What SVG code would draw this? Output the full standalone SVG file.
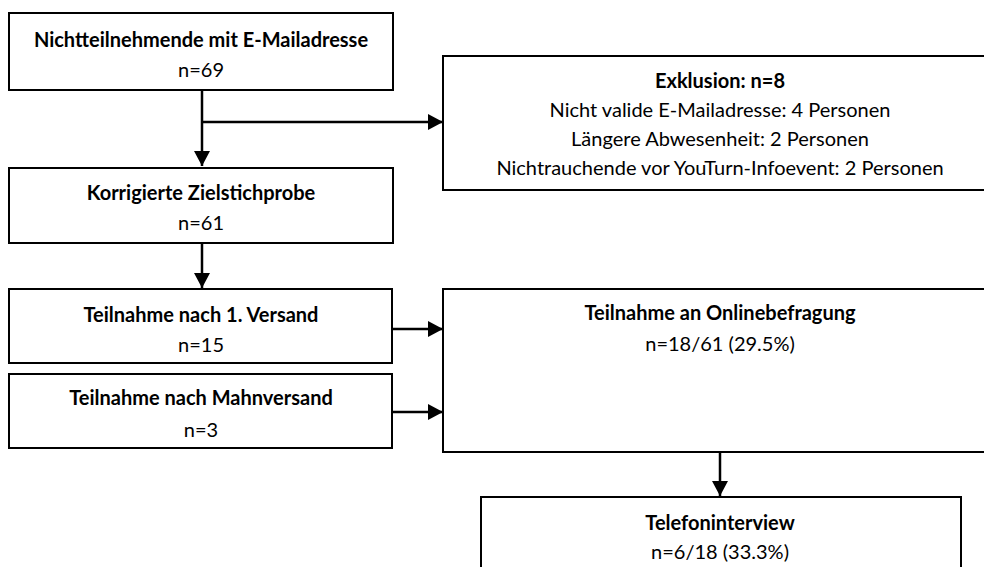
<svg xmlns="http://www.w3.org/2000/svg" width="984" height="567" viewBox="0 0 984 567">
<style>
.box{fill:#fff;stroke:#000;stroke-width:2}
.t{font-family:Lato,"Open Sans","Liberation Sans",sans-serif;font-size:20px;fill:#000;text-anchor:middle}
.b{font-weight:bold}
.c{fill:none;stroke:#000;stroke-width:2.5}
</style>
<defs>
<marker id="ah" markerUnits="userSpaceOnUse" markerWidth="16" markerHeight="16" refX="15" refY="8" orient="auto" viewBox="0 0 16 16">
<path d="M0,0 L15,8 L0,16 Z" fill="#000"/>
</marker>
</defs>
<rect width="984" height="567" fill="#fff"/>
<g id="connectors">
<path class="c" d="M202,90 V166" marker-end="url(#ah)"/>
<path class="c" d="M202,122 H443" marker-end="url(#ah)"/>
<path class="c" d="M202,243 V288" marker-end="url(#ah)"/>
<path class="c" d="M392,329 H443" marker-end="url(#ah)"/>
<path class="c" d="M392,412 H443" marker-end="url(#ah)"/>
<path class="c" d="M720,452 V496" marker-end="url(#ah)"/>
</g>
<g id="n1">
<rect class="box" x="9" y="13" width="384" height="77"/>
<text class="t b" x="201" y="47">Nichtteilnehmende mit E-Mailadresse</text>
<text class="t" x="201" y="77">n=69</text>
</g>
<g id="exclusion">
<rect class="box" x="443" y="56" width="560" height="134"/>
<text class="t b" x="720" y="88">Exklusion: n=8</text>
<text class="t" x="720" y="117">Nicht valide E-Mailadresse: 4 Personen</text>
<text class="t" x="720" y="146">Längere Abwesenheit: 2 Personen</text>
<text class="t" x="720" y="175">Nichtrauchende vor YouTurn-Infoevent: 2 Personen</text>
</g>
<g id="n2">
<rect class="box" x="9" y="168" width="384" height="75"/>
<text class="t b" x="201" y="200">Korrigierte Zielstichprobe</text>
<text class="t" x="201" y="230">n=61</text>
</g>
<g id="n3">
<rect class="box" x="9" y="289" width="383" height="74"/>
<text class="t b" x="201" y="322">Teilnahme nach 1. Versand</text>
<text class="t" x="201" y="352">n=15</text>
</g>
<g id="n4">
<rect class="box" x="9" y="374" width="383" height="74"/>
<text class="t b" x="201" y="405">Teilnahme nach Mahnversand</text>
<text class="t" x="201" y="437">n=3</text>
</g>
<g id="online">
<rect class="box" x="443" y="289" width="560" height="163"/>
<text class="t b" x="720" y="320">Teilnahme an Onlinebefragung</text>
<text class="t" x="720" y="351">n=18/61 (29.5%)</text>
</g>
<g id="telefon">
<rect class="box" x="481" y="497" width="480" height="90"/>
<text class="t b" x="720" y="530">Telefoninterview</text>
<text class="t" x="720" y="559">n=6/18 (33.3%)</text>
</g>
</svg>
